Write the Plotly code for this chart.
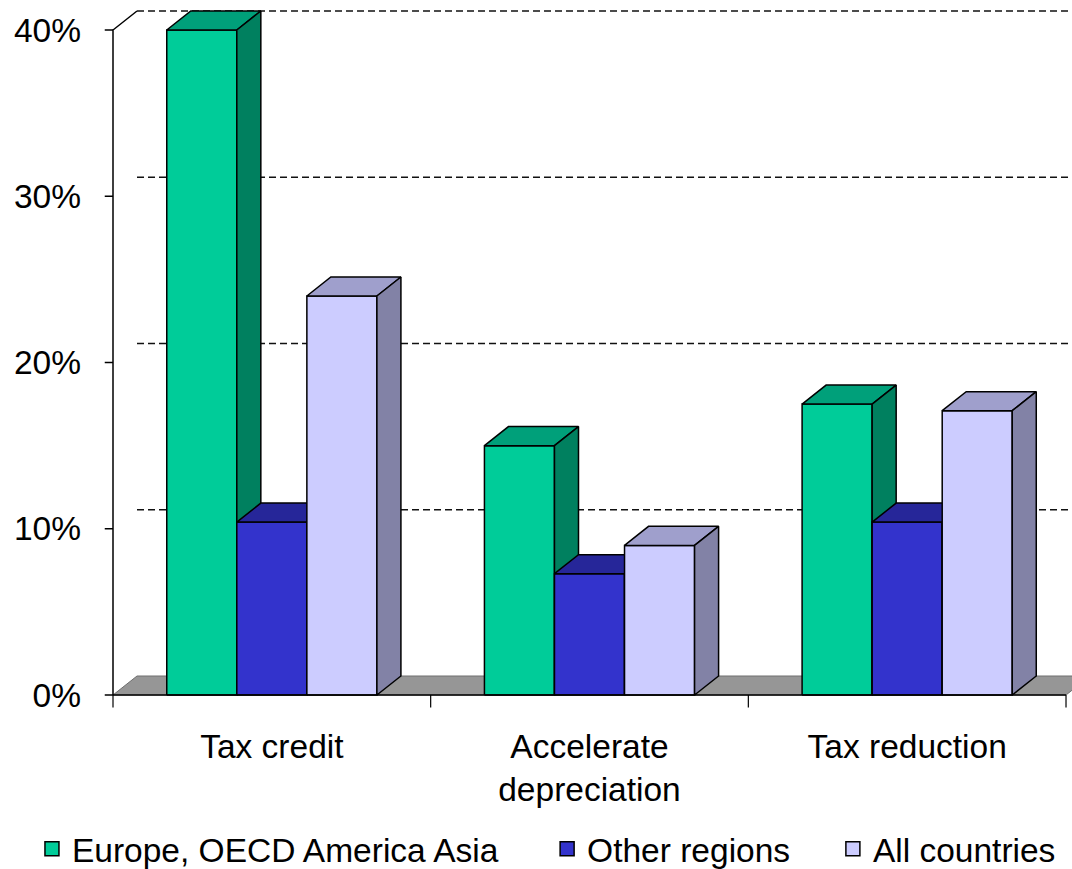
import plotly.graph_objects as go

# ---- data ----
categories = ["Tax credit", "Accelerate<br>depreciation", "Tax reduction"]
series_names = ["Europe, OECD America Asia", "Other regions", "All countries"]
europe_oecd = [40.0, 15.0, 17.5]
other_regions = [10.4, 7.3, 10.4]
all_countries = [24.0, 9.0, 17.1]
y_ticks = [0, 10, 20, 30, 40]
y_tick_labels = ["0%", "10%", "20%", "30%", "40%"]

series_values = [europe_oecd, other_regions, all_countries]

# face colours per series: front, top, side
face_colors = [
    ("#00CC99", "#00A07A", "#00805F"),
    ("#3333CC", "#262699", "#1F1F80"),
    ("#CCCCFF", "#9F9FCC", "#8282A6"),
]

# ---- 3D projection in axis units ----
DX = 0.0756   # depth shift along x (category units)
DY = 1.143    # depth shift along y (percent units)
BAR_W = 0.2205
GROUP_W = BAR_W * len(series_values)

fig = go.Figure()


def poly(xs, ys, fill, line_color="black", width=1.5):
    fig.add_trace(go.Scatter(
        x=xs + [xs[0]], y=ys + [ys[0]], mode="lines", fill="toself",
        fillcolor=fill, line=dict(color=line_color, width=width),
        hoverinfo="skip", showlegend=False))


def lines(xs, ys, color="black", width=1.5, dash=None):
    fig.add_trace(go.Scatter(
        x=xs, y=ys, mode="lines",
        line=dict(color=color, width=width, dash=dash),
        hoverinfo="skip", showlegend=False))


n_cat = len(categories)

# floor
poly([0, n_cat, n_cat + DX, DX], [0, 0, DY, DY], "#969696", "#6E6E6E", 1)

# back-wall grid lines
gx, gy = [], []
for v in y_ticks[1:]:
    gx += [DX, n_cat + DX + 0.2, None]
    gy += [v + DY, v + DY, None]
lines(gx, gy, color="#111111", width=1.4, dash="7px,4px")

# side wall edges (front axis line + top edge)
top = y_ticks[-1]
lines([0, 0, DX], [0, top, top + DY], width=1.5)

# bars, painted left to right
for c in range(n_cat):
    x0 = c + 0.5 - GROUP_W / 2
    for s, vals in enumerate(series_values):
        v = vals[c]
        xl = x0 + s * BAR_W
        xr = xl + BAR_W
        front, topc, side = face_colors[s]
        poly([xl, xr, xr, xl], [0, 0, v, v], front)
        poly([xl, xr, xr + DX, xl + DX], [v, v, v + DY, v + DY], topc)
        poly([xr, xr + DX, xr + DX, xr], [0, DY, v + DY, v], side)

# x axis line and tick marks
lines([0, n_cat], [0, 0], width=1.5)
tx, ty = [], []
for i in range(n_cat + 1):
    tx += [i, i, None]
    ty += [0, -0.75, None]
lines(tx, ty, width=1.2)

# y tick marks
yx, yy = [], []
for v in y_ticks:
    yx += [-0.026, 0, None]
    yy += [v, v, None]
lines(yx, yy, width=1.5)

# legend entries
legend_ids = ["legend", "legend2", "legend3"]
for s, name in enumerate(series_names):
    fig.add_trace(go.Scatter(
        x=[None], y=[None], mode="markers", name=name,
        marker=dict(symbol="square", size=14, color=face_colors[s][0],
                    line=dict(color="black", width=1.5)),
        legend=legend_ids[s]))

FONT = "Liberation Sans, Arial, sans-serif"
leg_common = dict(orientation="h", yanchor="middle", y=-0.1875, xanchor="left",
                  font=dict(family=FONT, size=33.5, color="black"),
                  bgcolor="rgba(0,0,0,0)", borderwidth=0)
tick_font = dict(family=FONT, size=33.5, color="black")

fig.update_layout(
    width=1072, height=869,
    margin=dict(l=100, r=0, t=0, b=154, autoexpand=False),
    paper_bgcolor="white", plot_bgcolor="white",
    font=dict(family=FONT, size=33.5, color="black"),
    xaxis=dict(range=[-0.04092, 3.01886], showgrid=False, zeroline=False,
               showline=False, tickmode="array",
               tickvals=[i + 0.5 for i in range(n_cat)], ticktext=categories,
               ticks="", ticklabelstandoff=8, tickfont=tick_font),
    yaxis=dict(range=[-1.203, 41.8045], showgrid=False, zeroline=False,
               showline=False, tickmode="array", tickvals=y_ticks,
               ticktext=y_tick_labels, ticks="", ticklabelstandoff=18,
               tickfont=tick_font),
    legend=dict(x=-0.07, **leg_common),
    legend2=dict(x=0.46, **leg_common),
    legend3=dict(x=0.754, **leg_common),
)

fig.write_html("out.html")
